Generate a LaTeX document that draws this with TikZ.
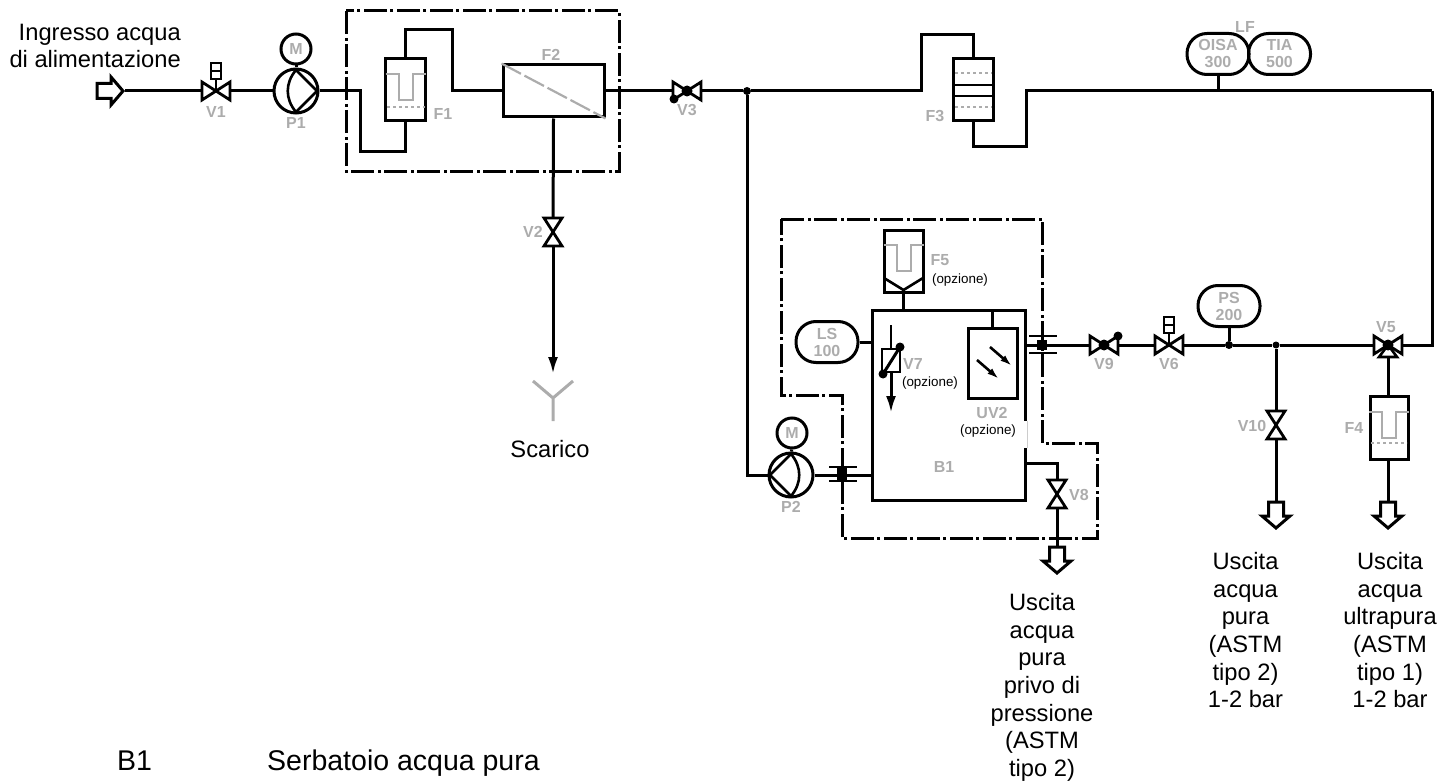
\documentclass[tikz,border=0pt]{standalone}
\usepackage{fontspec}
\setmainfont{Liberation Sans}
\usepackage{xcolor}
\usetikzlibrary{
    arrows.meta,
    calc
}
\definecolor{tagGray}{RGB}{172, 172, 172}
\tikzset{
    pipe/.style={line width=3pt, line join=miter},
    fence/.style={line width=3pt, dash pattern=on 23pt off 4pt on 3pt off 3pt},
    tag/.style={text=tagGray, inner sep=0pt, align=center, font=\fontsize{16}{17}\selectfont\bfseries},
    caption/.style={inner sep=0pt, align=center, font=\fontsize{23.7}{27.7}\selectfont},
    keyline/.style={inner sep=0pt, anchor=base west, font=\fontsize{28.5}{30}\selectfont},
    smallcap/.style={inner sep=0pt, font=\fontsize{13.4}{15}\selectfont},
    port/.style={inner sep=0pt, minimum width=28pt, minimum height=18pt},
    portv/.style={inner sep=0pt, minimum width=18pt, minimum height=28pt},
    vessel/.style={draw, line width=3pt, inner sep=0pt},
    gauge/.style={tag, draw=black, line width=3pt, rounded corners=20pt, minimum width=62pt, minimum height=41pt},
    motor/.style={tag, draw=black, line width=3pt, circle, minimum size=30pt},
    pumpbody/.style={draw, line width=3pt, circle, inner sep=0pt, minimum size=44pt},
    junction/.style={circle, fill, inner sep=0pt, minimum size=8pt},
    bowtie/.pic={\draw[pipe, line width=2.8pt] (-14,-9) -- (14,9) -- (14,-9) -- (-14,9) -- cycle;},
    valvedot/.pic={\fill (0,0) circle (5.5pt);},
    solenoid/.pic={
        \draw[line width=2.6pt] (0,0) -- (0,-12);
        \draw[line width=2.6pt] (-5,-28) rectangle (5,-12);
        \draw[line width=2pt] (-5,-20) -- (5,-20);
    },
    impeller/.pic={
        \draw[line width=2.6pt] (0,-21) -- (21,0) -- (0,21);
        \draw[line width=2.6pt] (0,-21) .. controls (-11,-8) and (-11,8) .. (0,21);
    },
    sieve/.pic={
        \draw[tagGray, line width=2pt] (-20,-16) -- (-7,-16) -- (-7,10) -- (7,10) -- (7,-16) -- (20,-16);
    },
    outflow/.pic={
        \draw[pipe, fill=white] (-7.5,0) -- (7.5,0) -- (7.5,14) -- (14,14) -- (0,26) -- (-14,14) -- (-7.5,14) -- cycle;
    },
    drain/.pic={
        \draw[tagGray, line width=3pt] (-20,-17) -- (0,0) -- (20,-17) (0,0) -- (0,23);
    }
}

\begin{document}
\begin{tikzpicture}[x=1pt, y=-1pt]
    \useasboundingbox (0,0) rectangle (1455,781);

    % dash-dot housings
    \draw[fence] (346,11) rectangle (619,171);
    \draw[fence] (781,219) -- (1042,219) -- (1042,443) -- (1097,443) -- (1097,538) -- (842,538) -- (842,395) -- (781,395) -- cycle;

    % inlet line
    \coordinate (inlet) at (125,91);
    \pic[rotate=90] at (97,91) {outflow};
    \node[port] (v1) at (216,91) {};
    \pic at (v1) {bowtie};
    \pic at (v1) {solenoid};
    \node[pumpbody] (p1) at (296,91) {};
    \pic at (p1) {impeller};
    \node[motor] (m1) at (296,49) {M};
    \draw[pipe] (inlet) -- (v1);
    \draw[pipe] (v1) -- (p1);
    \draw[pipe] (m1) -- (p1);

    % F1 and F2
    \node[vessel, minimum width=40pt, minimum height=62pt] (f1) at (405.5,90) {};
    \pic at (f1) {sieve};
    \draw[tagGray, line width=2pt, dashed] (387,107) -- (425,107);
    \node[vessel, minimum width=101pt, minimum height=52pt] (f2) at (553.5,91) {};
    \draw[tagGray, line width=2.2pt, dash pattern=on 22pt off 4pt] (f2.north west) -- (f2.south east);
    \coordinate (f1in) at (360,91);
    \coordinate (f1low) at (360,151);
    \coordinate (f1top) at (452,30);
    \draw[pipe] (p1) -- (f1in) -- (f1low) -| (f1.south);
    \draw[pipe] (f1.north) |- (f1top) |- (f2.west);

    % drain branch
    \node[portv] (v2) at (553,232) {};
    \pic[rotate=90] at (v2) {bowtie};
    \coordinate (draintip) at (553,374);
    \draw[pipe] (f2.south) -- (v2);
    \draw[pipe, -{Latex[length=17pt, width=10pt]}] (v2) -- (draintip);
    \pic at (553,398) {drain};

    % upper line to the meters
    \node[port] (v3) at (687,91) {};
    \pic at (v3) {bowtie};
    \pic at (v3) {valvedot};
    \fill (674,99) circle (4.5pt);
    \node[junction] (j1) at (747,91) {};
    \node[vessel, minimum width=40pt, minimum height=62pt] (f3) at (973.5,90) {};
    \draw[tagGray, line width=2pt, dashed] (955,73) -- (992,73);
    \draw[line width=2.6pt] (955,85) -- (992,85);
    \draw[line width=2.6pt] (955,96) -- (992,96);
    \draw[tagGray, line width=2pt, dashed] (955,107) -- (992,107);
    \coordinate (f3up) at (921,35);
    \coordinate (f3low) at (1026,146);
    \coordinate (turn) at (1432,91);
    \draw[pipe] (f2.east) -- (v3);
    \draw[pipe] (v3) -- (j1);
    \draw[pipe] (j1) -| (f3up) -| (f3.north);
    \draw[pipe] (f3.south) |- (f3low) |- (turn);
    \node[gauge] (oisa) at (1218,54) {OISA\\300};
    \node[gauge] (tia) at (1279.5,54) {TIA\\500};
    \draw[pipe] (oisa.south) -- (oisa.south |- turn);

    % tank B1
    \node[vessel, minimum width=153pt, minimum height=190pt] (b1) at (948.5,405) {};
    \node[vessel, minimum width=39pt, minimum height=62pt] (f5) at (903.5,261) {};
    \pic at (f5) {sieve};
    \draw[line width=2.6pt] (884,278) -- (903.5,290) -- (923,278);
    \draw[pipe] (f5.south) -- (f5.south |- b1.north);
    \node[gauge] (ls) at (827,342) {LS\\100};
    \draw[pipe] (ls.east) -- (ls.east -| b1.west);
    \node[vessel, minimum width=49pt, minimum height=70pt] (uv2) at (992.5,363) {};
    \draw[pipe] (uv2.north) -- (uv2.north |- b1.north);
    \draw[line width=2.6pt, -{Latex[length=12pt, width=7pt]}] (990,347) -- (1012,366);
    \draw[line width=2.6pt, -{Latex[length=12pt, width=7pt]}] (977,360) -- (999,379);

    % V7 inside the tank
    \coordinate (v7top) at (891,325);
    \coordinate (v7tip) at (891,413);
    \node[vessel, line width=2.6pt, fill=white, minimum width=18pt, minimum height=23pt] (v7) at (891,360.5) {};
    \draw[line width=2.6pt] (v7top) -- (v7);
    \draw[pipe, -{Latex[length=17pt, width=10pt]}] (v7) -- (v7tip);
    \draw[line width=3pt] (900,347) -- (883,374);
    \fill (900,347) circle (4.5pt);
    \fill (883,374) circle (4.5pt);

    % pump P2
    \node[pumpbody] (p2) at (791,475) {};
    \pic[xscale=-1] at (p2) {impeller};
    \node[motor] (m2) at (792,433) {M};
    \draw[pipe] (m2) -- (p2);
    \draw[pipe] (j1) |- (p2.west);
    \draw[pipe] (p2.east) -- (p2.east -| b1.west);
    \draw[line width=2.6pt] (829,467) -- (857,467);
    \draw[line width=2.6pt] (829,481) -- (857,481);
    \fill (837,468) rectangle (847,480);

    % pressureless outlet
    \coordinate (b1port) at (1025,463);
    \node[portv] (v8) at (1057,494) {};
    \pic[rotate=90] at (v8) {bowtie};
    \coordinate (out8) at (1057,547);
    \draw[pipe] (b1port) -| (v8.north);
    \draw[pipe] (v8.south) -- (out8);
    \pic at (out8) {outflow};

    % outlet line
    \coordinate (flangeb) at (1042,345);
    \node[port] (v9) at (1104,345) {};
    \pic at (v9) {bowtie};
    \pic at (v9) {valvedot};
    \fill (1118,336) circle (4.5pt);
    \node[port] (v6) at (1169,345) {};
    \pic at (v6) {bowtie};
    \pic at (v6) {solenoid};
    \node[junction] (j2) at (1229,345) {};
    \node[junction, minimum size=7pt] (j3) at (1276,345) {};
    \node[port] (v5) at (1388,345) {};
    \pic at (v5) {bowtie};
    \pic at (v5) {valvedot};
    \draw[line width=2.6pt] (1388,345) -- (1397,357) -- (1379,357) -- cycle;
    \coordinate (v5low) at (1388,357);
    \node[gauge] (ps) at (1229,306) {PS\\200};
    \node[portv] (v10) at (1276,425) {};
    \pic[rotate=90] at (v10) {bowtie};
    \coordinate (out10) at (1276,502);
    \pic at (out10) {outflow};
    \node[vessel, minimum width=38pt, minimum height=63pt] (f4) at (1389,427.5) {};
    \pic at (f4) {sieve};
    \draw[tagGray, line width=2pt, dashed] (1371,443) -- (1407,443);
    \coordinate (out4) at (1388,502);
    \pic at (out4) {outflow};
    \draw[pipe] (b1.east |- flangeb) -- (v9);
    \draw[pipe] (v9) -- (v6);
    \draw[pipe] (v6) -- (j2);
    \draw[pipe] (j2) -- (j3);
    \draw[pipe] (j3) -- (v5);
    \draw[pipe] (ps.south) -- (j2);
    \draw[pipe] (j3) -- (v10);
    \draw[pipe] (v10) -- (out10);
    \draw[pipe] (v5low) -- (f4.north -| v5low);
    \draw[pipe] (f4.south -| v5low) -- (out4);
    \draw[pipe] (turn) |- (v5.east);
    \draw[line width=2.6pt] (1029,336) -- (1057,336);
    \draw[line width=2.6pt] (1029,353) -- (1057,353);
    \fill (1037,340) rectangle (1047,350);

    % gray tags
    \node[tag] (tv1) at (216,112) {V1};
    \node[tag] (tp1) at (296,123) {P1};
    \node[tag] (tf1) at (443,114) {F1};
    \node[tag] (tf2) at (551,55) {F2};
    \node[tag] (tv2) at (533,232) {V2};
    \node[tag] (tv3) at (687,110) {V3};
    \node[tag] (tf3) at (935,116) {F3};
    \node[tag] (tlf) at (1245,27) {LF};
    \node[tag] (tf5) at (940,260) {F5};
    \node[tag] (tv7) at (913,364) {V7};
    \node[tag] (tuv2) at (992,413) {UV2};
    \node[tag] (tb1) at (944,467) {B1};
    \node[tag] (tp2) at (791,507) {P2};
    \node[tag] (tv8) at (1079,495) {V8};
    \node[tag] (tv9) at (1104,364) {V9};
    \node[tag] (tv6) at (1169,364) {V6};
    \node[tag] (tv5) at (1386,327) {V5};
    \node[tag] (tv10) at (1252,426) {V10};
    \node[tag] (tf4) at (1354,428) {F4};

    % optional parts
    \node[smallcap] (optf5) at (960,280) {(opzione)};
    \node[smallcap] (optv7) at (930,383) {(opzione)};
    \node[fill=white, inner sep=0pt, minimum width=78pt, minimum height=27pt] (gap) at (988,434.5) {};
    \draw[gray!40, very thin] (gap.north east) -- (gap.south east);
    \node[smallcap] (optuv) at (988,431) {(opzione)};

    % captions
    \node[caption, align=right, anchor=north east] (tin) at (181,23.5) {Ingresso acqua\\di alimentazione};
    \node[caption] (tdrain) at (550,449) {Scarico};
    \node[caption, anchor=north] (tpriv) at (1042,593) {Uscita\\acqua\\pura\\privo di\\pressione\\(ASTM\\tipo 2)};
    \node[caption, anchor=north] (tpure) at (1245.5,552) {Uscita\\acqua\\pura\\(ASTM\\tipo 2)\\1-2 bar};
    \node[caption, anchor=north] (tultra) at (1390,552) {Uscita\\acqua\\ultrapura\\(ASTM\\tipo 1)\\1-2 bar};
    \node[keyline] (tkey) at (117,770) {B1};
    \node[keyline] (tkeytext) at (267,770) {Serbatoio acqua pura};
\end{tikzpicture}
\end{document}
